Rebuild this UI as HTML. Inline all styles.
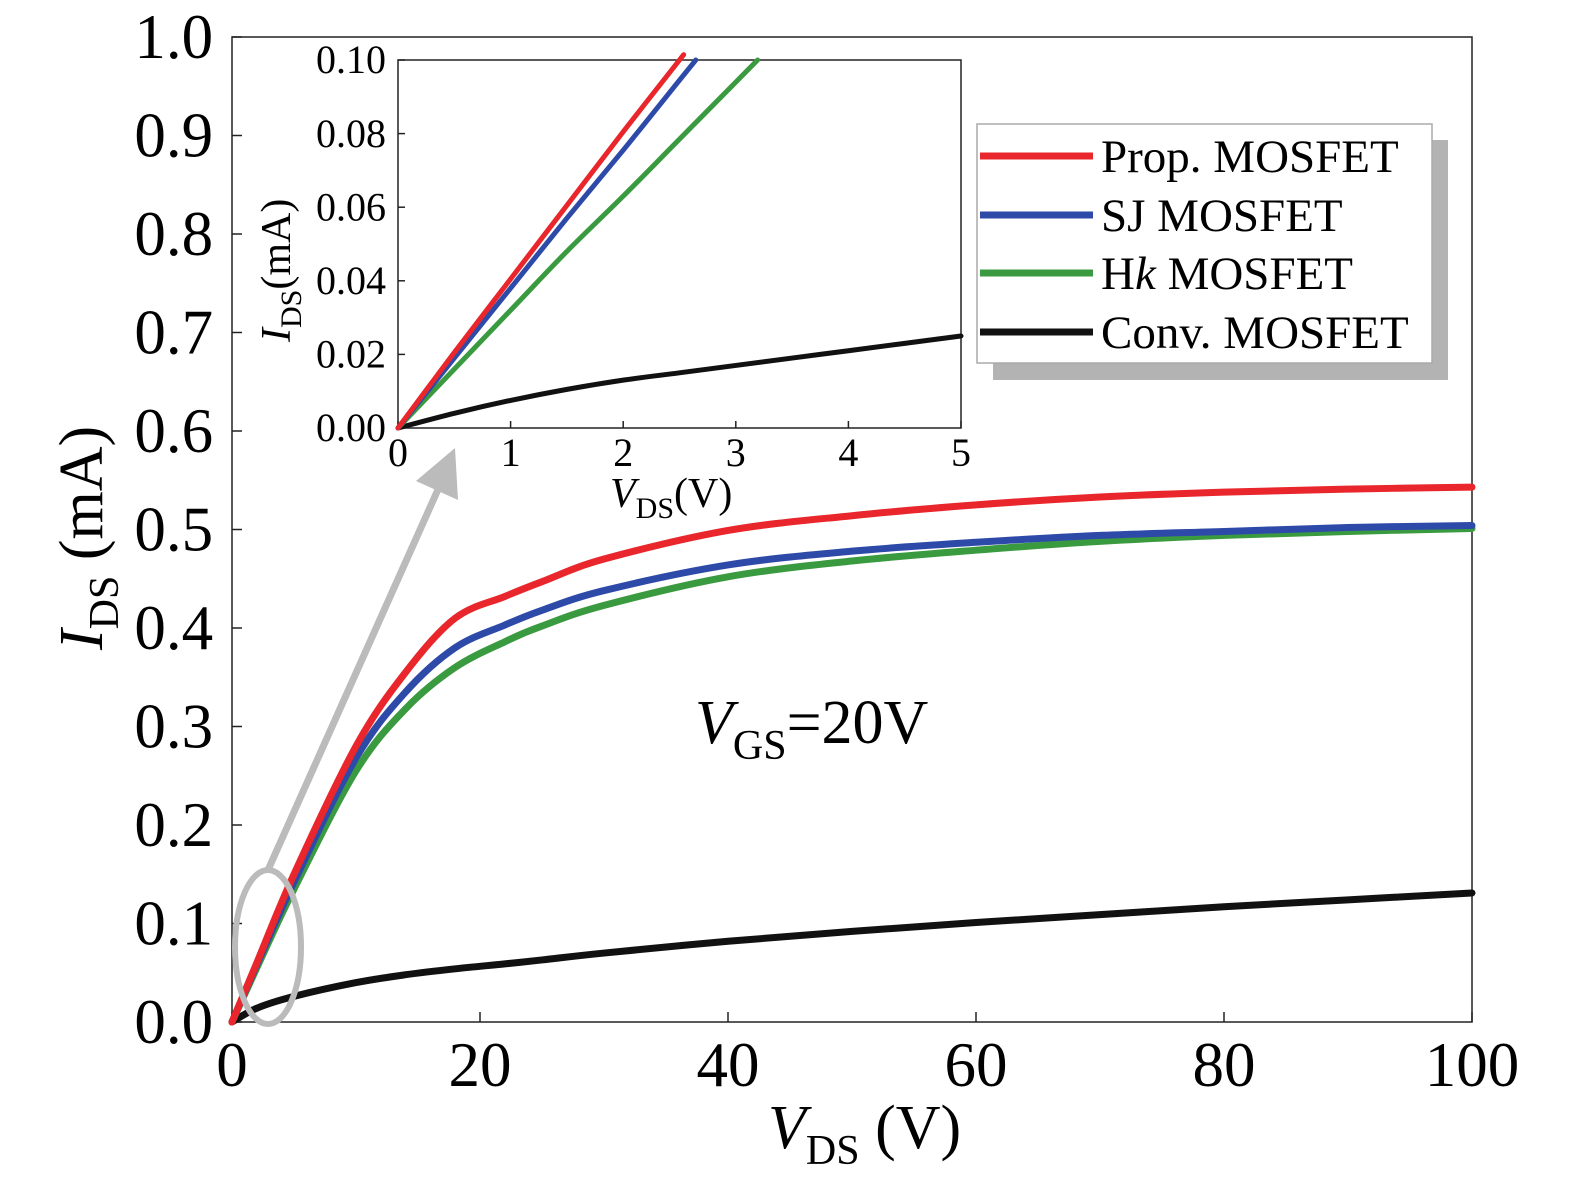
<!DOCTYPE html>
<html><head><meta charset="utf-8"><style>
html,body{margin:0;padding:0;background:#fff;overflow:hidden;width:1575px;height:1183px;}
svg{display:block;font-family:"Liberation Serif",serif;}
</style></head><body>
<svg id="chart" width="1575" height="1183" viewBox="0 0 1575 1183" xmlns="http://www.w3.org/2000/svg">
<g id="main"></g>
<g id="inset"></g>
<g id="legend">
  <rect x="993" y="140" width="455" height="240" fill="#b3b3b3"/>
  <rect x="977" y="124" width="455" height="239" fill="#fff" stroke="#aaa" stroke-width="1.5"/>
  <g><line x1="980" y1="156" x2="1093" y2="156" stroke="#e8262b" stroke-width="7"/><text x="1101" y="172" font-size="47">Prop. MOSFET</text></g>
  <g><line x1="980" y1="215" x2="1093" y2="215" stroke="#2e4aa8" stroke-width="7"/><text x="1101" y="231" font-size="47">SJ MOSFET</text></g>
  <g><line x1="980" y1="273" x2="1093" y2="273" stroke="#3a9a3f" stroke-width="7"/><text x="1101" y="289" font-size="47">H<tspan font-style="italic">k</tspan> MOSFET</text></g>
  <g><line x1="980" y1="332" x2="1093" y2="332" stroke="#111" stroke-width="7"/><text x="1101" y="348" font-size="47">Conv. MOSFET</text></g>
</g>
<text x="695" y="743" font-size="62"><tspan font-style="italic">V</tspan><tspan font-size="42" dy="16">GS</tspan><tspan dy="-16">=20V</tspan></text>
<ellipse cx="268" cy="947" rx="33" ry="77" fill="none" stroke="#bbb" stroke-width="6"/>
<line x1="268" y1="870" x2="440" y2="485" stroke="#bbb" stroke-width="7"/>
<polygon points="455,448 458,500 416,481" fill="#bbb"/>
<text x="768" y="1148" font-size="62"><tspan font-style="italic">V</tspan><tspan font-size="42" dy="16">DS</tspan><tspan dy="-16"> (V)</tspan></text>
<text transform="translate(102,650) rotate(-90)" font-size="62"><tspan font-style="italic">I</tspan><tspan font-size="42" dy="16">DS</tspan><tspan dy="-16"> (mA)</tspan></text>
<text x="610" y="507" font-size="42"><tspan font-style="italic">V</tspan><tspan font-size="30" dy="11">DS</tspan><tspan dy="-11">(V)</tspan></text>
<text transform="translate(290,342) rotate(-90)" font-size="42"><tspan font-style="italic">I</tspan><tspan font-size="30" dy="11">DS</tspan><tspan dy="-11">(mA)</tspan></text>
</svg>
<script>
// main chart data
const mainX = [0,2,5,10,14,18,22,25,30,40,50,60,70,80,90,100];
const propY = [0,0.06,0.15,0.28,0.355,0.41,0.432,0.447,0.47,0.499,0.514,0.525,0.533,0.538,0.541,0.543];
const sjY   = [0,0.058,0.142,0.268,0.335,0.38,0.403,0.418,0.438,0.464,0.478,0.487,0.494,0.498,0.502,0.504];
const hkY   = [0,0.055,0.135,0.255,0.318,0.36,0.386,0.402,0.423,0.452,0.468,0.479,0.488,0.494,0.498,0.501];
const convY = [0,0.014,0.026,0.04,0.048,0.054,0.059,0.063,0.07,0.082,0.092,0.101,0.109,0.117,0.124,0.131];
const mainXTicks = [0,20,40,60,80,100];
const mainYTicks = [0,0.1,0.2,0.3,0.4,0.5,0.6,0.7,0.8,0.9,1.0];
// inset data
const insetX = [0,0.5,1,1.5,2,2.5,3,3.5,4,4.5,5];
const insetProp = [0,0.0205,0.0405,0.0605,0.0805,0.1,null,null,null,null,null];
const insetSj = [0,0.019,0.038,0.057,0.0755,0.0945,null,null,null,null,null];
const insetHk = [0,0.016,0.032,0.048,0.063,0.0785,0.094,null,null,null,null];
const insetConv = [0,0.004,0.0075,0.0105,0.013,0.015,0.017,0.019,0.021,0.023,0.025];
const insetXTicks = [0,1,2,3,4,5];
const insetYTicks = [0,0.02,0.04,0.06,0.08,0.10];

const NS="http://www.w3.org/2000/svg";
function mk(parent,tag,attrs){const e=document.createElementNS(NS,tag);for(const k in attrs)e.setAttribute(k,attrs[k]);parent.appendChild(e);return e;}
const colors={prop:"#e8262b",sj:"#2e4aa8",hk:"#3a9a3f",conv:"#111"};

function smooth(pts){
  let d='M'+pts[0][0]+','+pts[0][1];
  for(let i=0;i<pts.length-1;i++){
    const p0=pts[i-1]||pts[i],p1=pts[i],p2=pts[i+1],p3=pts[i+2]||p2;
    const c1=[p1[0]+(p2[0]-p0[0])/6,p1[1]+(p2[1]-p0[1])/6];
    const c2=[p2[0]-(p3[0]-p1[0])/6,p2[1]-(p3[1]-p1[1])/6];
    d+=' C'+c1.join(',')+' '+c2.join(',')+' '+p2.join(',');
  }
  return d;
}

function drawPlot(g,x0,x1,y0,y1,xmin,xmax,ymax,xs,series,xt,yt,fs,ydec,xlen,isInset,xlabDy){
  const sx=v=>x0+(v-xmin)/(xmax-xmin)*(x1-x0);
  const sy=v=>y0-(v/ymax)*(y0-y1);
  const frame=mk(g,'rect',{x:x0,y:y1,width:x1-x0,height:y0-y1,fill:'none',stroke:'#222','stroke-width':1.5});
  
  
  xt.forEach(v=>{
    const l=mk(g,'line',{x1:sx(v),x2:sx(v),y1:y0,y2:y0-xlen,stroke:'#222','stroke-width':1.5});
    
    
    const t=mk(g,'text',{x:sx(v),y:y0+xlabDy,'font-size':fs,'text-anchor':'middle'});
    t.textContent=String(v);
    
    
  });
  yt.forEach(v=>{
    const l=mk(g,'line',{x1:x0,x2:x0+xlen,y1:sy(v),y2:sy(v),stroke:'#222','stroke-width':1.5});
    
    
    const t=mk(g,'text',{x:x0-fs*0.3,y:sy(v)+fs*0.33,'font-size':fs,'text-anchor':'end'});
    t.textContent=v.toFixed(ydec);
    
    
  });
  series.forEach(([name,ys])=>{
    let pts=[];
    for(let i=0;i<xs.length;i++){
      if(ys[i]===null) break;
      pts.push([sx(xs[i]),sy(ys[i])]);
    }
    const last=ys.indexOf(null);
    if(last>1){
      const xa=xs[last-2],xb=xs[last-1],ya=ys[last-2],yb=ys[last-1];
      const slope=(yb-ya)/(xb-xa);
      const xe=xb+(ymax-yb)/slope;
      pts.push([sx(xe),sy(ymax)]);
    }
    const p=mk(g,'path',{d:smooth(pts),fill:'none',stroke:colors[name],'stroke-width':isInset?5:7,'stroke-linejoin':'round','stroke-linecap':'round'});
    
    
  });
}
const main=document.getElementById('main');
drawPlot(main,232,1472,1022,37,0,100,1.0,mainX,[['conv',convY],['hk',hkY],['sj',sjY],['prop',propY]],mainXTicks,mainYTicks,63,1,10,false,64);
const inset=document.getElementById('inset');
mk(inset,'rect',{x:398,y:60,width:563,height:368,fill:'#fff'});
drawPlot(inset,398,961,428,60,0,5,0.10,insetX,[['conv',insetConv],['hk',insetHk],['sj',insetSj],['prop',insetProp]],insetXTicks,insetYTicks,40,2,7,true,38);
</script>
</body></html>
